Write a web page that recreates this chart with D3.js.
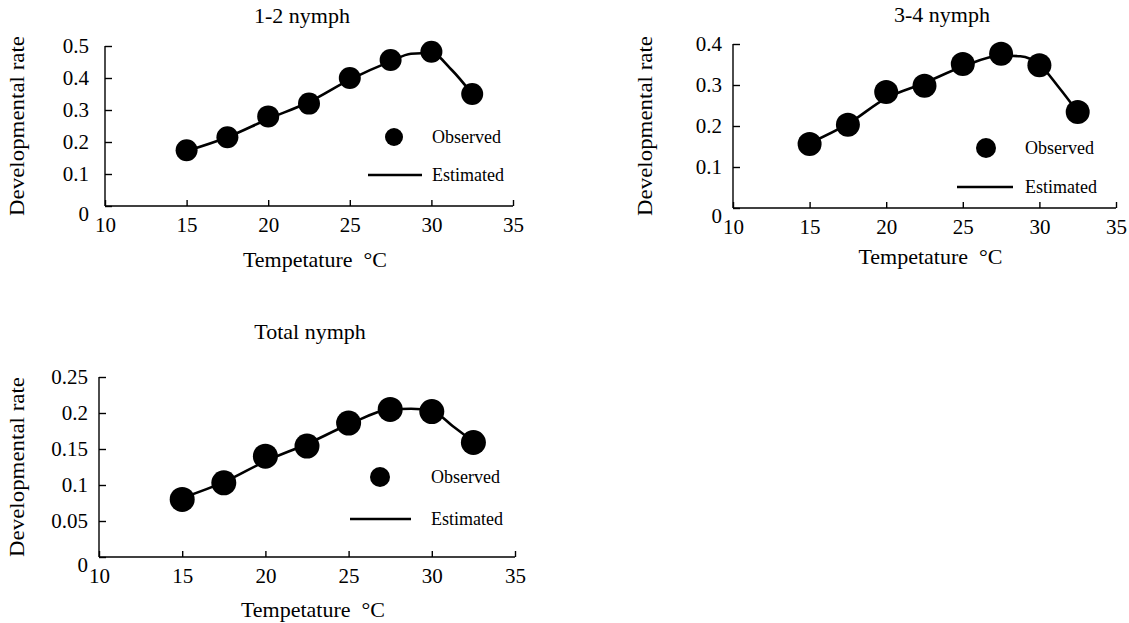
<!DOCTYPE html>
<html><head><meta charset="utf-8">
<script src="https://cdn.jsdelivr.net/npm/d3@7"></script>
<style>html,body{margin:0;padding:0;background:#fff;}svg{display:block;font-family:"Liberation Serif","Times New Roman",serif;}</style>
</head><body><svg id="c" width="1129" height="623"></svg>
<script>
const temps = [15, 17.5, 20, 22.5, 25, 27.5, 30, 32.5];
const estTemps = [15, 17.5, 20, 22.5, 25, 27.5, 28.75, 30, 31.25, 32.5];
const obs12 = [0.174, 0.215, 0.28, 0.32, 0.40, 0.456, 0.482, 0.35];
const est12 = [0.172, 0.215, 0.272, 0.325, 0.395, 0.452, 0.476, 0.478, 0.425, 0.35];
const obs34 = [0.156, 0.203, 0.283, 0.298, 0.351, 0.376, 0.348, 0.234];
const est34 = [0.158, 0.205, 0.268, 0.305, 0.345, 0.372, 0.370, 0.35, 0.295, 0.234];
const obsTot = [0.080, 0.103, 0.140, 0.154, 0.186, 0.205, 0.202, 0.159];
const estTot = [0.082, 0.104, 0.133, 0.157, 0.184, 0.205, 0.206, 0.203, 0.182, 0.16];
const xTicks = [10, 15, 20, 25, 30, 35];
const yTicks12 = [0, 0.1, 0.2, 0.3, 0.4, 0.5];
const yTicks34 = [0, 0.1, 0.2, 0.3, 0.4];
const yTicksTot = [0, 0.05, 0.1, 0.15, 0.2, 0.25];
const titles = ["1-2 nymph", "3-4 nymph", "Total nymph"];

const svg = d3.select("#c");
svg.append("rect").attr("width",1129).attr("height",623).attr("fill","#fff");

const panels = [
  {title:titles[0], obs:obs12, est:est12, yt:yTicks12, ymax:0.5, x0:105, x1:513, y0:206, y1:46,
   titleXY:[302,23], xlabY:267, ylabX:24, legDot:[394,137], legLine:[368,422,175], legTx:432, legR:9, gap:16, r:11},
  {title:titles[1], obs:obs34, est:est34, yt:yTicks34, ymax:0.4, x0:733, x1:1116, y0:208, y1:44,
   titleXY:[942,22], xlabY:264, ylabX:652, legDot:[986,148], legLine:[957,1013,187], legTx:1025, legR:10, gap:11, r:12},
  {title:titles[2], obs:obsTot, est:estTot, yt:yTicksTot, ymax:0.25, x0:99, x1:515, y0:557, y1:377,
   titleXY:[310,339], xlabY:617, ylabX:24, legDot:[380,477], legLine:[350,411,519], legTx:431, legR:10, gap:11, r:12.5}
];

panels.forEach(p => {
  const g = svg.append("g");
  const x = d3.scaleLinear().domain([10,35]).range([p.x0,p.x1]);
  const y = d3.scaleLinear().domain([0,p.ymax]).range([p.y0,p.y1]);
  const fmt = v => v === 0 ? "0" : String(+v.toFixed(2));

  const xa = g.append("g").attr("transform",`translate(0,${p.y0})`)
    .call(d3.axisBottom(x).tickValues(xTicks).tickSize(-6).tickPadding(0).tickFormat(d3.format("d")));
  xa.select(".domain").attr("d",`M${p.x0},0H${p.x1}`);
  xa.selectAll("text").attr("dy",null).attr("y",26).attr("font-size",21).attr("font-family","Liberation Serif").attr("fill","#000");
  const ya = g.append("g").attr("transform",`translate(${p.x0},0)`)
    .call(d3.axisLeft(y).tickValues(p.yt).tickSize(-7).tickPadding(p.gap).tickFormat(fmt));
  ya.select(".domain").attr("d",`M0,${p.y1}V${p.y0}`);
  ya.selectAll("text").attr("font-size",21).attr("font-family","Liberation Serif").attr("fill","#000")
    .attr("dy", d => d === 0 ? "0.7em" : "0.32em");
  g.selectAll(".domain,.tick line").attr("stroke","#000").attr("stroke-width",1.4);

  const line = d3.line().x((d,i)=>x(estTemps[i])).y(d=>y(d)).curve(d3.curveMonotoneX);
  g.append("path").datum(p.est).attr("d",line).attr("fill","none").attr("stroke","#000").attr("stroke-width",2.6);
  g.selectAll("circle.obs").data(p.obs).join("circle").attr("class","obs")
    .attr("cx",(d,i)=>x(temps[i])).attr("cy",d=>y(d)).attr("r",p.r).attr("fill","#000");

  g.append("text").attr("x",p.titleXY[0]).attr("y",p.titleXY[1]).attr("text-anchor","middle")
    .attr("font-size",22).text(p.title);
  g.append("text").attr("x",(p.x0+p.x1)/2+6).attr("y",p.xlabY).attr("text-anchor","middle")
    .attr("font-size",22).attr("xml:space","preserve").text("Tempetature  \u00B0C");
  g.append("text").attr("transform",`translate(${p.ylabX},${(p.y0+p.y1)/2}) rotate(-90)`)
    .attr("text-anchor","middle").attr("font-size",22).attr("textLength",180).attr("lengthAdjust","spacingAndGlyphs")
    .text("Developmental rate");

  g.append("circle").attr("cx",p.legDot[0]).attr("cy",p.legDot[1]).attr("r",p.legR).attr("fill","#000");
  g.append("text").attr("x",p.legTx).attr("y",p.legDot[1]+6).attr("font-size",18).text("Observed");
  g.append("line").attr("x1",p.legLine[0]).attr("x2",p.legLine[1]).attr("y1",p.legLine[2]).attr("y2",p.legLine[2])
    .attr("stroke","#000").attr("stroke-width",2.6);
  g.append("text").attr("x",p.legTx).attr("y",p.legLine[2]+6).attr("font-size",18).text("Estimated");
});
</script></body></html>
